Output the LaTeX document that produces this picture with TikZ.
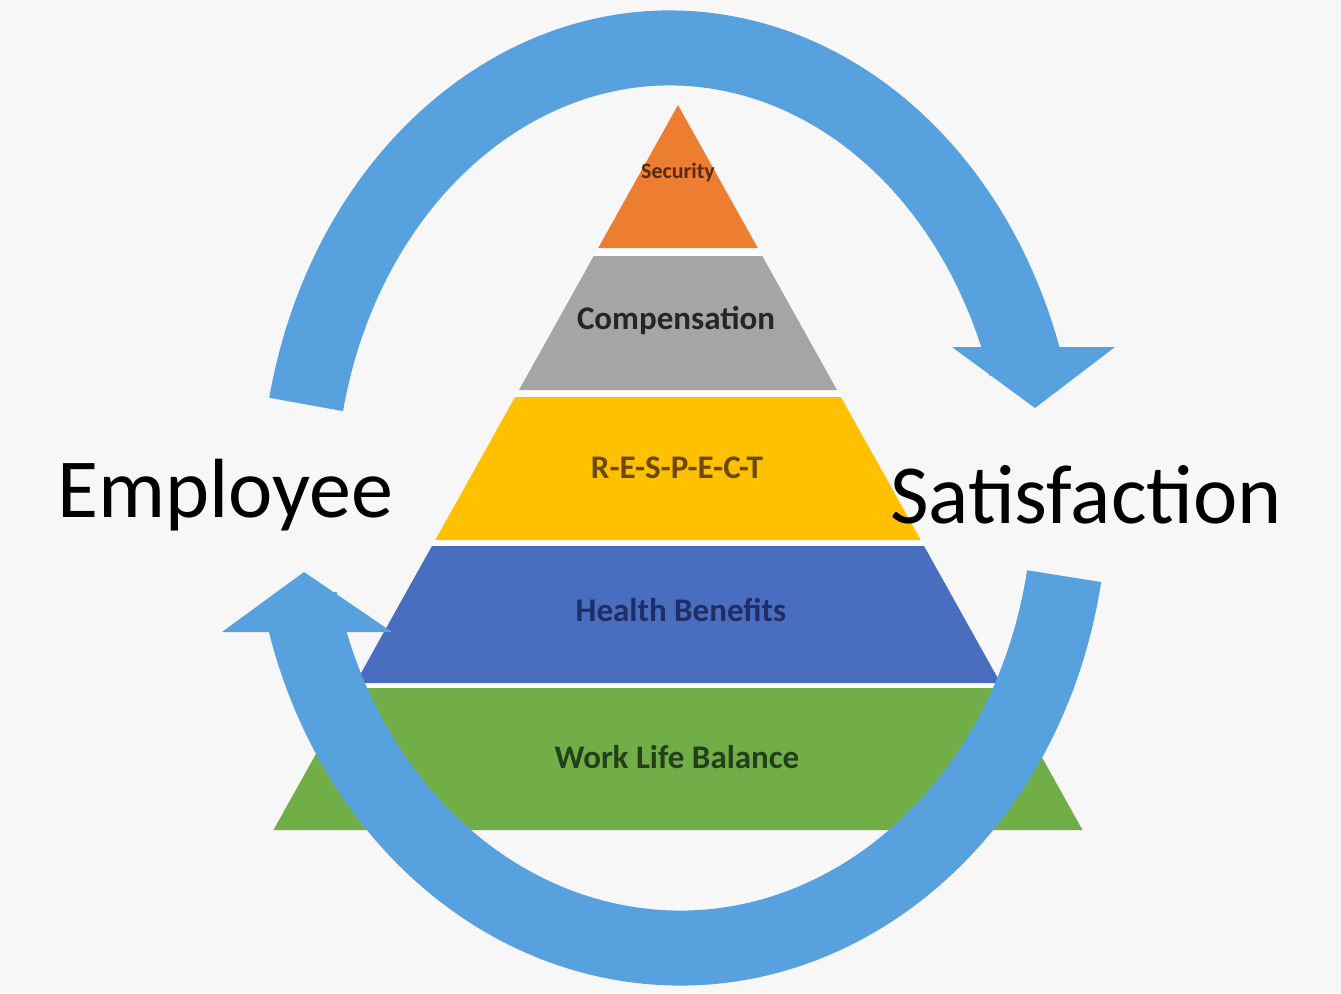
\documentclass[tikz,border=0pt]{standalone}
\usepackage{fontspec}
\setmainfont{Carlito}
\usetikzlibrary{calc}
\tikzset{imgpx/.style={x=0.5pt,y=-0.5pt,every node/.style={inner sep=0pt,outer sep=0pt,anchor=center,align=center}}}
\definecolor{bgpaper}{HTML}{F7F7F7}
\definecolor{ringblue}{HTML}{58A1DF}
\definecolor{layorange}{HTML}{ED7D31}
\definecolor{laygray}{HTML}{A5A5A5}
\definecolor{layyellow}{HTML}{FFC000}
\definecolor{layblue}{HTML}{4A6EBF}
\definecolor{laygreen}{HTML}{72AE48}
\definecolor{txtorange}{HTML}{5A2A0A}
\definecolor{txtgray}{HTML}{262626}
\definecolor{txtyellow}{HTML}{6B4A00}
\definecolor{txtblue}{HTML}{1F2E66}
\definecolor{txtgreen}{HTML}{24401A}
\tikzset{
  ring/.style={draw=ringblue,line width=37.5pt},
  ringhead/.style={fill=ringblue},
  layertxt/.style={font=\fontsize{16.5}{19}\selectfont\bfseries},
  bigword/.style={font=\fontsize{42}{50}\selectfont,text=black},
}

\begin{document}
\begin{tikzpicture}[imgpx]
  \fill[bgpaper] (0,0) rectangle (1341,993);
  \useasboundingbox (0,0) rectangle (1341,993);
  % pyramid
  \fill[white] (678,105) -- (1083,830) -- (273,830) -- cycle;
  \foreach \yt/\yb/\cor in {105/248/layorange,256/390/laygray,397/540/layyellow,546/683/layblue,688/830/laygreen}
    \fill[\cor] ({678-0.558*(\yt-105)},\yt) -- ({678+0.558*(\yt-105)},\yt)
      -- ({678+0.558*(\yb-105)},\yb) -- ({678-0.558*(\yb-105)},\yb) -- cycle;
  \node[layertxt,text=txtorange,font=\fontsize{11}{13}\selectfont\bfseries] (security) at (678,173) {Security};
  \node[layertxt,text=txtgray] (comp) at (676,320) {Compensation};
  \node[layertxt,text=txtyellow] (respect) at (677,468) {R-E-S-P-E-C-T};
  \node[layertxt,text=txtblue] (health) at (681,610) {Health Benefits};
  \node[layertxt,text=txtgreen] (balance) at (677,757) {Work Life Balance};
  % arrows around
  \coordinate (ctop) at (670,498);
  \coordinate (cbot) at (680,498);
  \draw[ring] ($(ctop)+(192:372 and 450)$) arc[start angle=192,end angle=343,x radius=372,y radius=450];
  \fill[ringhead] (952,347) -- (1115,347) -- (1035,408) -- cycle;
  \draw[ring] ($(cbot)+(10:390 and 450)$) arc[start angle=10,end angle=167,x radius=390,y radius=450];
  \fill[ringhead] (222,632) -- (392,632) -- (304,572) -- cycle;
  \node[bigword] (employee) at (225,495) {Employee};
  \node[bigword] (satisf) at (1086,495) {Satisfaction};
\end{tikzpicture}
\end{document}
